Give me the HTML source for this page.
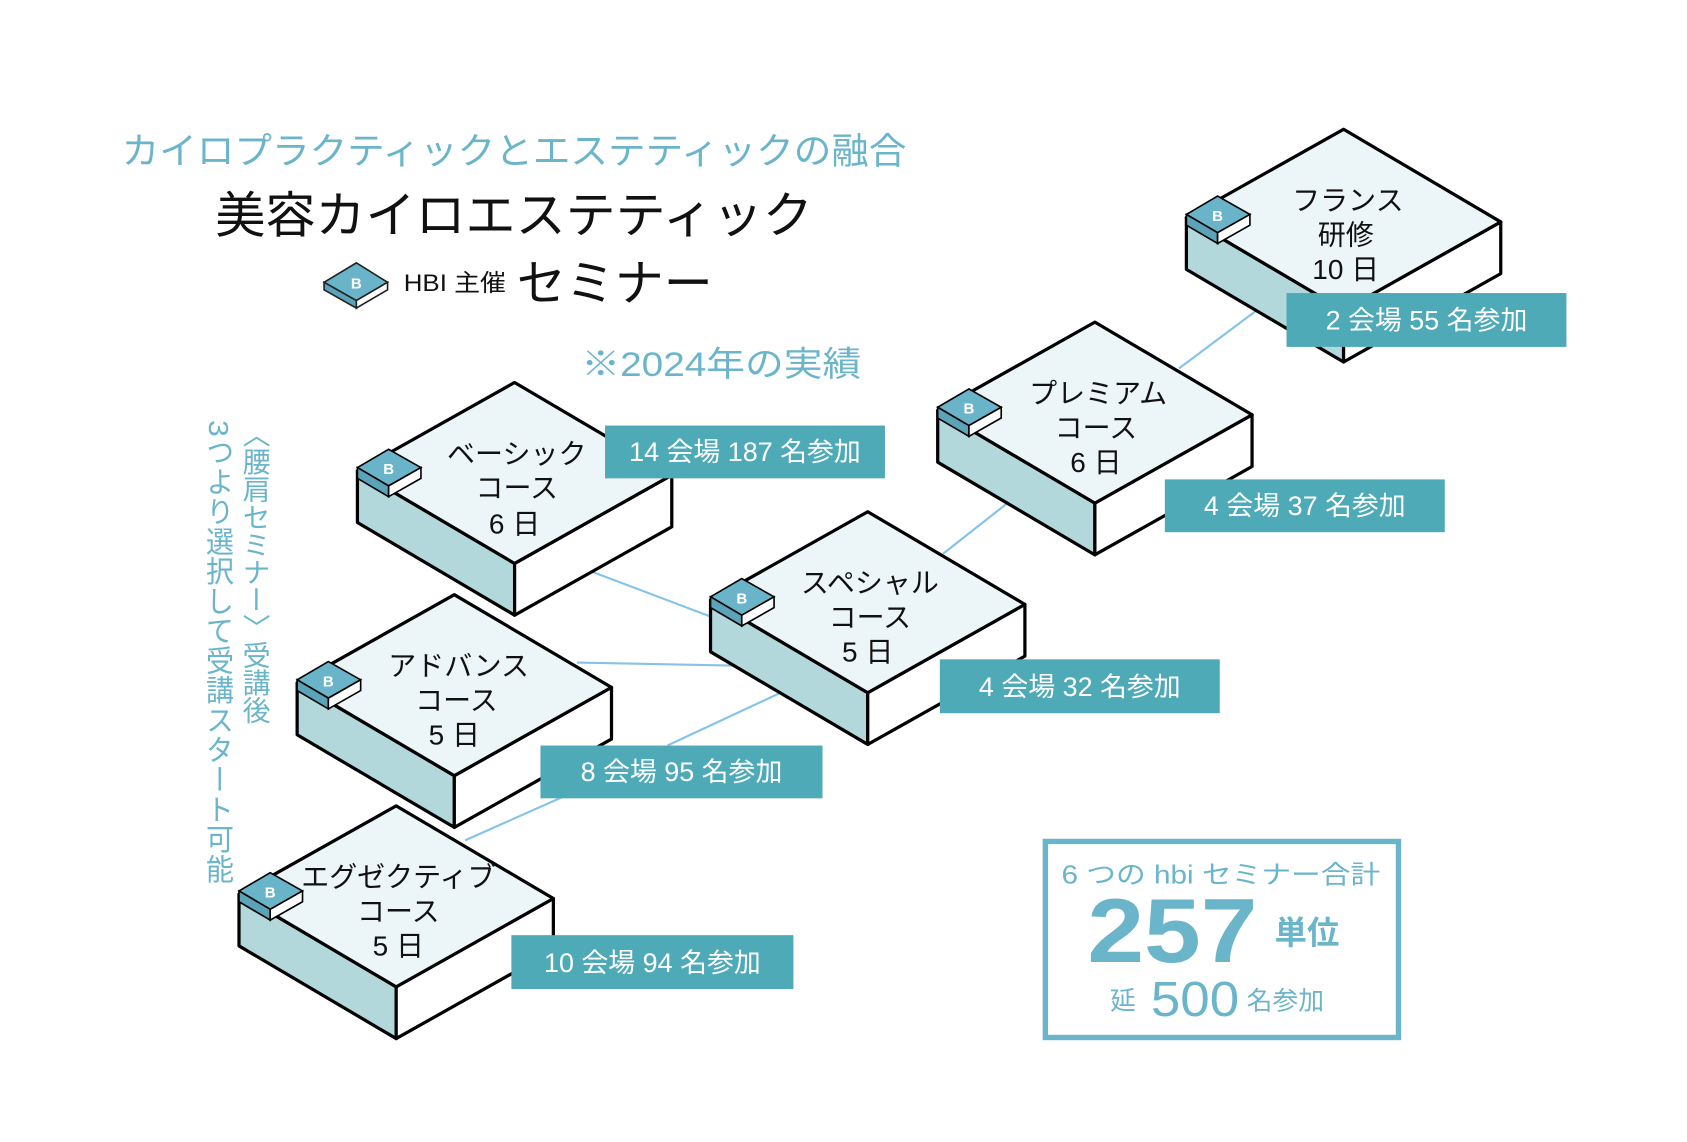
<!DOCTYPE html>
<html><head><meta charset="utf-8">
<style>
html,body{margin:0;padding:0;background:#fff;}
svg{display:block;}
text{font-family:"Liberation Sans","Noto Sans CJK JP",sans-serif;}
</style></head>
<body>
<svg width="1687" height="1142" viewBox="0 0 1567 1060" preserveAspectRatio="none" xmlns="http://www.w3.org/2000/svg">
<rect width="1567" height="1060" fill="#fff"/>

<text x="113" y="152" font-size="34" fill="#6bb5cb" textLength="729" lengthAdjust="spacingAndGlyphs">カイロプラクティックとエステティックの融合</text>
<text x="200" y="216" font-size="46" fill="#111" textLength="555" lengthAdjust="spacingAndGlyphs">美容カイロエステティック</text>
<g>
<polygon points="301,262 331,244 360,262 331,279" fill="#6ab4c9" stroke="#222" stroke-width="1.5"/>
<polygon points="301,262 331,279 331,286 301,269" fill="#5aa3b8" stroke="#222" stroke-width="1.5"/>
<polygon points="331,279 360,262 360,269 331,286" fill="#fff" stroke="#222" stroke-width="1.5"/>
<text x="331" y="268" font-size="14" font-weight="bold" fill="#fff" text-anchor="middle">B</text>
</g>
<text x="375" y="270" font-size="22" fill="#111" textLength="95" lengthAdjust="spacingAndGlyphs">HBI 主催</text>
<text x="480" y="279" font-size="46" fill="#111" textLength="182" lengthAdjust="spacingAndGlyphs">セミナー</text>
<text x="540" y="349" font-size="32" fill="#6bb5cb" textLength="260" lengthAdjust="spacingAndGlyphs">※2024年の実績</text>

<text x="237" y="390" font-size="26" fill="#6bb5cb" style="writing-mode:tb;" textLength="282" lengthAdjust="spacingAndGlyphs">〈腰肩セミナー〉受講後</text>
<text x="203" y="390" font-size="26" fill="#6bb5cb" style="writing-mode:tb;" textLength="430" lengthAdjust="spacingAndGlyphs">3つより選択して受講スタート可能</text>

<g stroke="#86c3e8" stroke-width="2" fill="none">
<line x1="548" y1="530" x2="662" y2="573"/>
<line x1="536" y1="615" x2="692" y2="618"/>
<line x1="620" y1="692" x2="725" y2="643"/>
<line x1="432" y1="780" x2="522" y2="740"/>
<line x1="876" y1="514" x2="937" y2="466"/>
<line x1="1095" y1="342" x2="1166" y2="289"/>
</g>

<defs>
<g id="box">
<polygon points="-146,82 0,168 0,216 -146,130" fill="#b3d8dc" stroke="#000" stroke-width="3" stroke-linejoin="round"/>
<polygon points="0,168 146,86 146,134 0,216" fill="#fff" stroke="#000" stroke-width="3" stroke-linejoin="round"/>
<polygon points="0,0 146,86 0,168 -146,82" fill="#ecf5f7" stroke="#000" stroke-width="3" stroke-linejoin="round"/>
<polygon points="-146,79 -117,62 -87,79 -117,96" fill="#6ab4c9" stroke="#000" stroke-width="1.5"/>
<polygon points="-146,79 -117,96 -117,106 -146,89" fill="#5aa3b8" stroke="#000" stroke-width="1.5"/>
<polygon points="-117,96 -87,79 -87,89 -117,106" fill="#fff" stroke="#000" stroke-width="1.5"/>
<text x="-117" y="85" font-size="14" font-weight="bold" fill="#fff" text-anchor="middle">B</text>
</g>
</defs>

<g font-size="26" fill="#111" text-anchor="middle">
<use href="#box" x="1248" y="120"/>
<text x="1252" y="195">フランス</text><text x="1250" y="227">研修</text><text x="1250" y="259">10 日</text>

<use href="#box" x="1017" y="299"/>
<text x="1020" y="374">プレミアム</text><text x="1018" y="406">コース</text><text x="1018" y="438">6 日</text>

<use href="#box" x="478" y="355"/>
<text x="480" y="430">ベーシック</text><text x="480" y="462">コース</text><text x="478" y="495">6 日</text>

<use href="#box" x="806" y="475"/>
<text x="808" y="550">スペシャル</text><text x="808" y="582">コース</text><text x="806" y="614">5 日</text>

<use href="#box" x="422" y="552"/>
<text x="426" y="627">アドバンス</text><text x="424" y="659">コース</text><text x="422" y="691">5 日</text>

<use href="#box" x="368" y="748"/>
<text x="370" y="823">エグゼクティブ</text><text x="370" y="855">コース</text><text x="370" y="887">5 日</text>
</g>

<g fill="#4faab8">
<rect x="562" y="395" width="260" height="49"/>
<rect x="1082" y="445" width="260" height="49"/>
<rect x="1195" y="272" width="260" height="50"/>
<rect x="873" y="612" width="260" height="50"/>
<rect x="502" y="692" width="262" height="49"/>
<rect x="475" y="868" width="262" height="50"/>
</g>
<g fill="#fff" font-size="25" text-anchor="middle">
<text x="692" y="428">14 会場 187 名参加</text>
<text x="1212" y="478">4 会場 37 名参加</text>
<text x="1325" y="306">2 会場 55 名参加</text>
<text x="1003" y="646">4 会場 32 名参加</text>
<text x="633" y="725">8 会場 95 名参加</text>
<text x="606" y="902">10 会場 94 名参加</text>
</g>

<rect x="971" y="781" width="328" height="182" fill="#fff" stroke="#6bb5cb" stroke-width="5"/>
<text x="1134" y="820" font-size="24" fill="#6bb5cb" text-anchor="middle" textLength="296" lengthAdjust="spacingAndGlyphs">6 つの hbi セミナー合計</text>
<text x="1010" y="893" font-size="84" font-weight="bold" fill="#6bb5cb" textLength="158" lengthAdjust="spacingAndGlyphs">257</text>
<text x="1184" y="876" font-size="30" font-weight="bold" fill="#6bb5cb">単位</text>
<text x="1031" y="937" font-size="24" fill="#6bb5cb">延</text>
<text x="1069" y="943" font-size="46" fill="#6bb5cb" textLength="82" lengthAdjust="spacingAndGlyphs">500</text>
<text x="1158" y="937" font-size="24" fill="#6bb5cb">名参加</text>
</svg>
</body></html>
